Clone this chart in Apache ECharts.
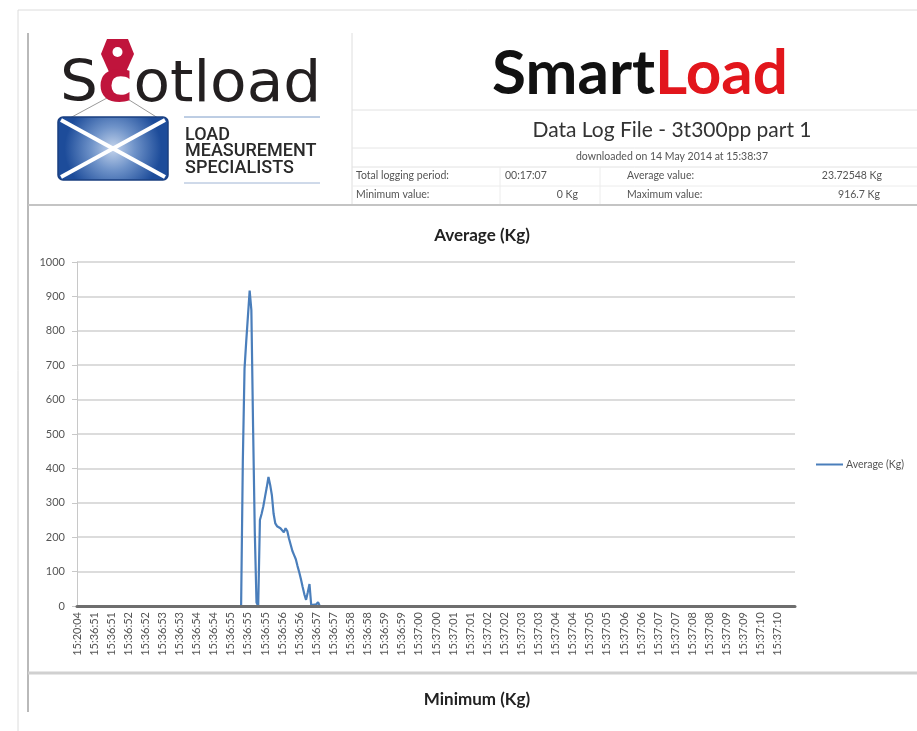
<!DOCTYPE html>
<html>
<head>
<meta charset="utf-8">
<script src="https://cdn.jsdelivr.net/npm/echarts@6/dist/echarts.min.js"></script>
<style>
html,body{margin:0;padding:0;background:#fff;}
#c{width:917px;height:731px;}
</style>
</head>
<body>
<div id="c"></div>
<script>
// Tick labels of the category (time) axis, one every 10 samples
const tickLabels = ['15:20:04','15:36:51','15:36:51','15:36:52','15:36:52','15:36:53','15:36:53','15:36:54','15:36:54','15:36:55','15:36:55','15:36:55','15:36:56','15:36:56','15:36:57','15:36:57','15:36:58','15:36:58','15:36:59','15:36:59','15:37:00','15:37:00','15:37:01','15:37:01','15:37:02','15:37:02','15:37:03','15:37:03','15:37:04','15:37:04','15:37:05','15:37:05','15:37:06','15:37:06','15:37:07','15:37:07','15:37:08','15:37:08','15:37:09','15:37:09','15:37:10','15:37:10'];
// Sample number of each logged reading
const sampleIndex = [0,96,97,98,99,100,101,102,103,104,105,106,107,108,109,110,111,112,113,114,115,116,117,118,119,120,121,122,123,124,125,126,127,128,129,130,131,132,133,134,135,136,137,138,140,141,142,420];
// Average (Kg) readings
const averageKg = [0,0,420,690,770,775,916.7,860,520,215,10,0,250,268,290,318,345,375,352,322,268,240,232,236,226,222,214,226,218,196,178,160,148,136,116,98,78,55,34,18,40,64,3,0,5,11,0,0];
const yTicks = {min:0, max:1000, step:100};

const seriesData = sampleIndex.map((x,i)=>[x, averageKg[i]]);
const FONT = 'Lato, "Open Sans", sans-serif';

const chart = echarts.init(document.getElementById('c'), null, {renderer:'canvas'});

const g = [];
function line(x1,y1,x2,y2,color,w){ g.push({type:'line',silent:true,shape:{x1,y1,x2,y2},style:{stroke:color,lineWidth:w}}); }
function text(x,y,t,size,color,align,weight,family){
  g.push({type:'text',silent:true,x,y,style:{text:t,fontSize:size,fill:color,align:align||'left',verticalAlign:'middle',fontWeight:weight||'normal',fontFamily:family||FONT}});
}
// frame
line(18,10,917,10,'#dcdcdc',1);
line(18,10,18,731,'#dcdcdc',1);
line(28,33,28,712,'#8a8a8a',1.2);
// header grid
line(352,33,352,205,'#dedede',1);
line(352,110,917,110,'#e2e2e2',1);
line(352,148,917,148,'#e6e6e6',1);
line(352,167,917,167,'#e2e2e2',1);
line(352,186,917,186,'#ececec',1);
line(500,167,500,205,'#ececec',1);
line(600,167,600,205,'#ececec',1);
line(28,205,917,205,'#c4c4c4',2);
line(28,673,917,673,'#d0d0d0',3);

// logo
g.push({type:'line',silent:true,shape:{x1:70,y1:118,x2:107,y2:98},style:{stroke:'#9a9a9a',lineWidth:1}});
g.push({type:'line',silent:true,shape:{x1:158,y1:118,x2:126,y2:98},style:{stroke:'#9a9a9a',lineWidth:1}});
g.push({type:'rect',silent:true,shape:{x:58,y:117,width:110,height:63,r:5},
  style:{fill:{type:'radial',x:0.5,y:0.5,r:0.75,colorStops:[{offset:0,color:'#c4d4ec'},{offset:0.45,color:'#6f93c9'},{offset:1,color:'#1d4c9a'}]},stroke:'#1a3f80',lineWidth:1.5}});
line(61,120,165,177,'#ffffff',4);
line(61,177,165,120,'#ffffff',4);
g.push({type:'polygon',silent:true,shape:{points:[[107,39],[128,39],[134,54],[126,72],[109,72],[101,54]]},style:{fill:'#c0143c'}});
g.push({type:'circle',silent:true,shape:{cx:117.5,cy:52,r:5},style:{fill:'#ffffff'}});
g.push({type:'text',silent:true,x:60,y:86,scaleX:1.15,scaleY:1.08,
  style:{text:'{a|S}{b|c}{a|otload}',verticalAlign:'middle',
    rich:{a:{fontSize:52,fill:'#231f20',fontFamily:'"DejaVu Sans", sans-serif',fontWeight:500},b:{fontSize:52,fill:'#c0143c',fontFamily:'"DejaVu Sans", sans-serif',fontWeight:'bold'}}}});
line(184,117,320,117,'#7c9cc8',1);
line(184,183,320,183,'#9fb4d4',1);
text(185,135,'LOAD',18,'#2a2a2a','left','500','Roboto, sans-serif');
text(185,151,'MEASUREMENT',18,'#2a2a2a','left','500','Roboto, sans-serif');
text(185,168,'SPECIALISTS',18,'#2a2a2a','left','500','Roboto, sans-serif');

// SmartLoad header
g.push({type:'text',silent:true,x:640,y:74,
  style:{text:'{a|Smart}{b|Load}',align:'center',verticalAlign:'middle',
    rich:{a:{fontSize:62,fill:'#111',fontWeight:'bold',fontFamily:FONT},b:{fontSize:62,fill:'#e2161c',fontWeight:'bold',fontFamily:FONT}}}});
text(672,130,'Data Log File - 3t300pp part 1',21,'#333','center');
text(672,157,'downloaded on 14 May 2014 at 15:38:37',10.5,'#555','center');
text(356,176,'Total logging period:',10.5,'#555');
text(505,176,'00:17:07',10.5,'#555');
text(627,176,'Average value:',10.5,'#555');
text(882,176,'23.72548 Kg',10.5,'#555','right');
text(356,195,'Minimum value:',10.5,'#555');
text(578,195,'0 Kg',10.5,'#555','right');
text(627,195,'Maximum value:',10.5,'#555');
text(880,195,'916.7 Kg',10.5,'#555','right');
text(477,700,'Minimum (Kg)',17,'#222','center','bold');

chart.setOption({
  animation:false,
  backgroundColor:'#fff',
  title:{text:'Average (Kg)',left:477,top:222,textAlign:'center',textStyle:{fontSize:17,fontWeight:'bold',color:'#222',fontFamily:FONT}},
  legend:{left:811,top:454,itemWidth:27,itemHeight:2,icon:'rect',itemGap:4,
    textStyle:{fontSize:10.5,color:'#555',fontFamily:FONT,padding:[0,0,0,-2]},data:['Average (Kg)']},
  grid:{left:77,right:122,top:262,bottom:125,containLabel:false},
  xAxis:{type:'value',min:0,max:420,interval:10,z:5,
    axisLine:{show:true,lineStyle:{color:'#6e6e6e',width:3}},
    axisTick:{show:false},splitLine:{show:false},
    axisLabel:{rotate:90,margin:6,fontSize:11,color:'#555',fontFamily:FONT,
      formatter:(v)=>{const i=Math.round(v/10);return (Math.abs(v-i*10)<1e-6 && tickLabels[i]!==undefined)?tickLabels[i]:'';}}},
  yAxis:{type:'value',min:yTicks.min,max:yTicks.max,interval:yTicks.step,
    axisLine:{show:true,lineStyle:{color:'#c8c8c8',width:1}},
    axisTick:{show:true,length:5,lineStyle:{color:'#c8c8c8'}},
    splitLine:{show:true,lineStyle:{color:'#d0d0d0',width:1.5}},
    axisLabel:{margin:12,fontSize:11,color:'#555',fontFamily:FONT,formatter:(v)=>String(v)}},
  series:[{name:'Average (Kg)',type:'line',data:seriesData,showSymbol:false,symbol:'none',
    lineStyle:{color:'#4a7ebb',width:2.2},itemStyle:{color:'#4a7ebb'}}],
  graphic:{elements:g}
});
</script>
</body>
</html>
